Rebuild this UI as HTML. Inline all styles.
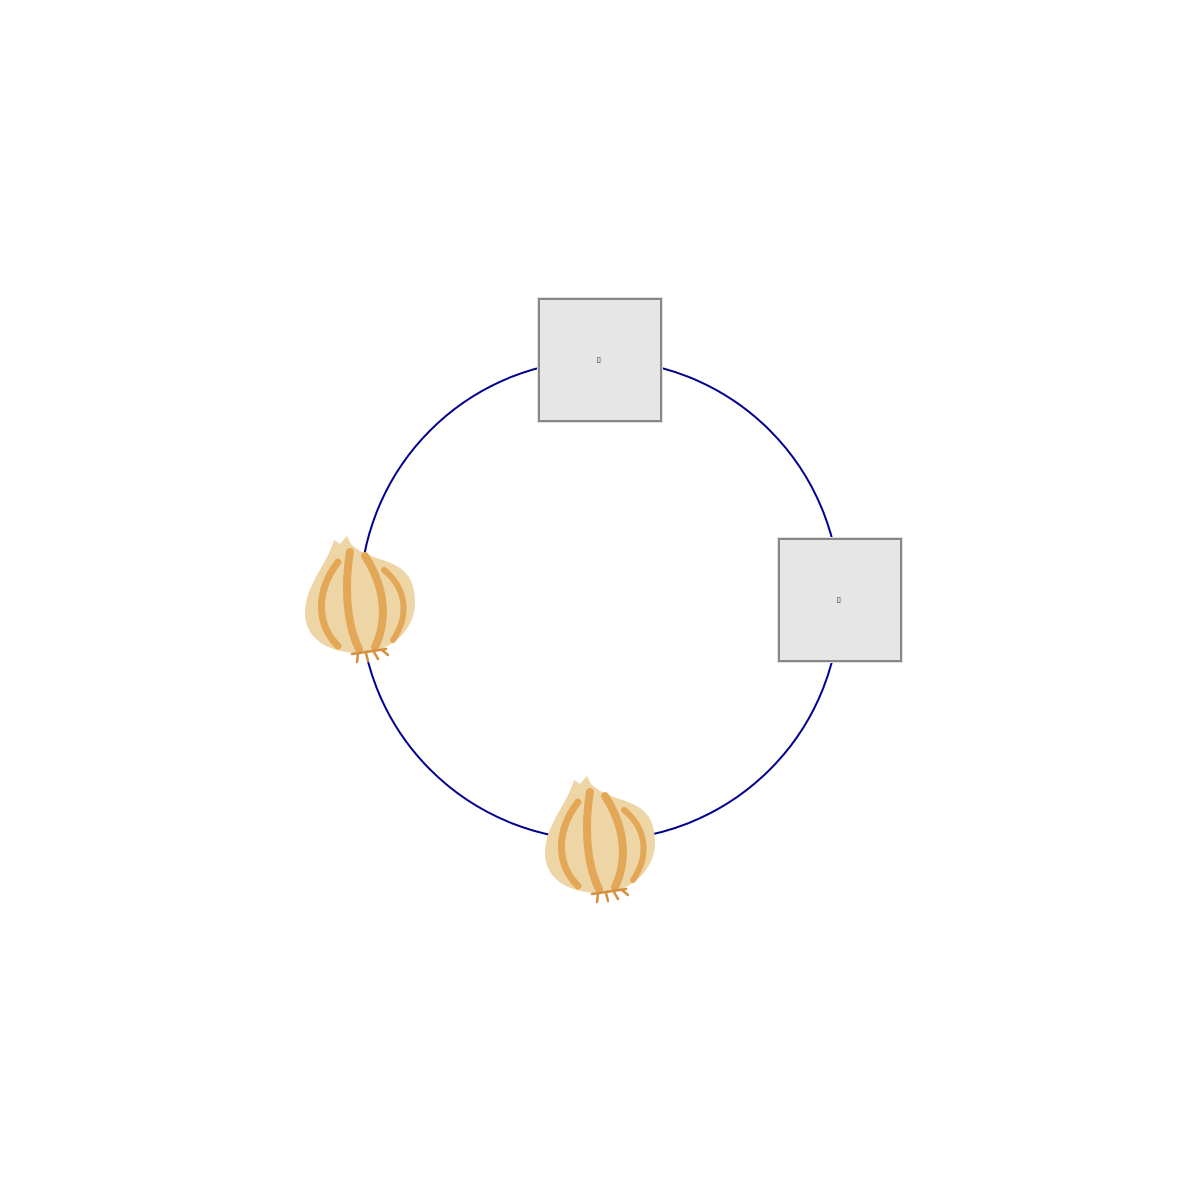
<!DOCTYPE html>
<html><head><meta charset="utf-8"><style>
html,body{margin:0;padding:0;background:#fff;}
svg{display:block;}
</style></head><body>
<svg id="chart" width="1200" height="1200" viewBox="0 0 1200 1200" xmlns="http://www.w3.org/2000/svg">
<defs>
<g id="onion">
<path d="M -26,-60 L -20,-56 L -13,-64 L -9,-56 C 5,-42 25,-42 40,-32 C 52,-24 55,-10 55,3 C 55,30 30,53 0,53 C -30,53 -55,40 -55,13 C -55,-15 -33,-35 -26,-60 Z" fill="#EDD5A5"/>
<g fill="none" stroke="#E3A857" stroke-linecap="round">
<path d="M -22,-38 C -42,-12 -46,22 -22,46" stroke-width="7"/>
<path d="M -10,-48 C -16,-12 -13,25 -1,49" stroke-width="8"/>
<path d="M 5,-44 C 22,-18 30,15 15,47" stroke-width="8"/>
<path d="M 24,-30 C 46,-12 50,15 33,40" stroke-width="6"/>
</g>
<g stroke="#D4903F" stroke-width="2.5" stroke-linecap="round">
<path d="M -8,54 L 26,49"/>
<path d="M -2,54 L -3,62"/>
<path d="M 6,53 L 8,61"/>
<path d="M 14,52 L 18,59"/>
<path d="M 22,50 L 28,55"/>
</g>
</g>
</defs>
<circle cx="600" cy="600" r="240" fill="none" stroke="#00008B" stroke-width="2"/>
<g id="nodes"></g>
</svg>
<script>
const nodeAngles = [-90, 0, 90, 180];
const nodeTypes = ["box", "box", "onion", "onion"];
const nodeLabels = ["\u25AF", "\u25AF", "", ""];
const cx = 600, cy = 600, R = 240, NS = "http://www.w3.org/2000/svg";
const g = document.getElementById('nodes');
nodeAngles.forEach((a, i) => {
  const rad = a * Math.PI / 180;
  const x = cx + R * Math.cos(rad), y = cy + R * Math.sin(rad);
  const grp = document.createElementNS(NS, 'g');
  
  
  grp.setAttribute('transform', 'translate(' + x + ',' + y + ')');
  if (nodeTypes[i] === 'box') {
    const outer = document.createElementNS(NS, 'rect');
    outer.setAttribute('x', -63); outer.setAttribute('y', -63);
    outer.setAttribute('width', 126); outer.setAttribute('height', 126);
    outer.setAttribute('fill', '#E0E0E0');
    grp.appendChild(outer);
    const r = document.createElementNS(NS, 'rect');
    r.setAttribute('x', -61); r.setAttribute('y', -61);
    r.setAttribute('width', 122); r.setAttribute('height', 122);
    r.setAttribute('fill', '#E6E6E6'); r.setAttribute('stroke', '#888');
    r.setAttribute('stroke-width', 2);
    grp.appendChild(r);
    const t = document.createElementNS(NS, 'text');
    
    
    t.setAttribute('x', -1); t.setAttribute('y', 2);
    t.setAttribute('font-size', 8);
    t.setAttribute('font-family', 'DejaVu Sans, sans-serif');
    t.setAttribute('text-anchor', 'middle');
    t.setAttribute('fill', '#222');
    t.textContent = nodeLabels[i];
    grp.appendChild(t);
  } else {
    const u = document.createElementNS(NS, 'use');
    u.setAttribute('href', '#onion');
    grp.appendChild(u);
  }
  g.appendChild(grp);
});
</script>
</body></html>
